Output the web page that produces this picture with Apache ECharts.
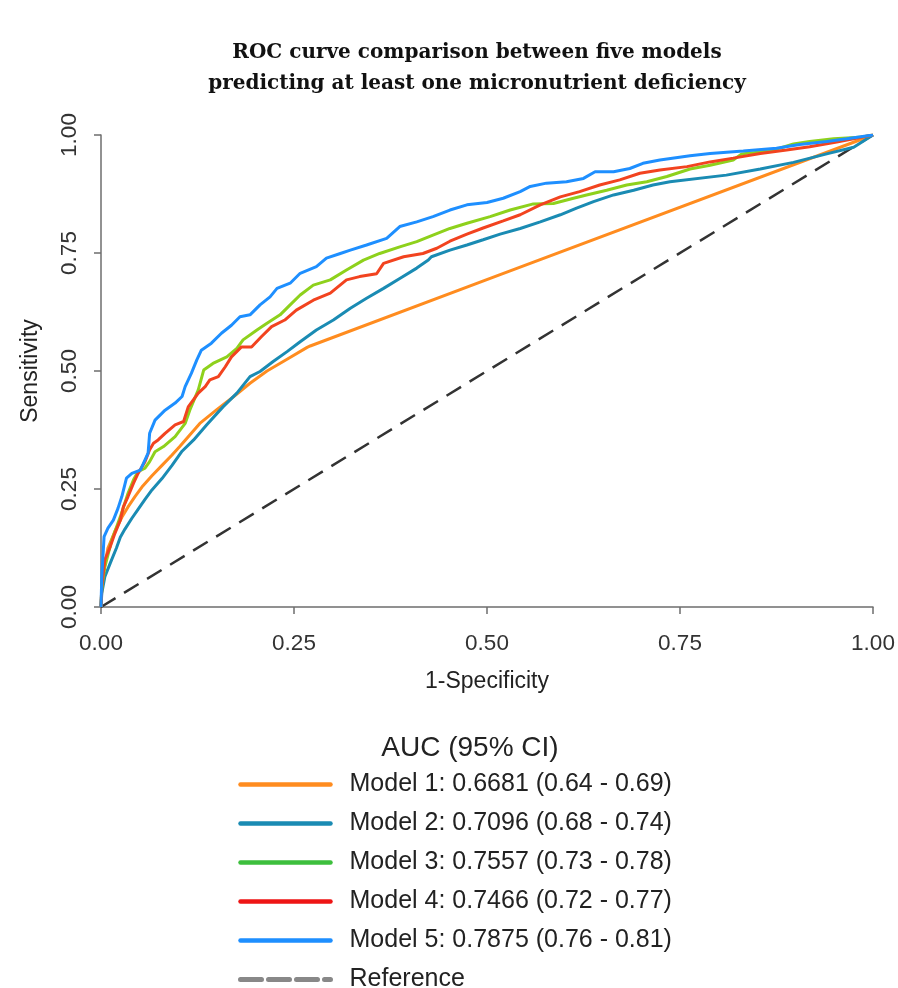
<!DOCTYPE html>
<html>
<head>
<meta charset="utf-8">
<script src="https://cdn.jsdelivr.net/npm/echarts@6/dist/echarts.min.js"></script>
<style>html,body{margin:0;padding:0;background:#fff}#c{width:898px;height:988px}</style>
</head>
<body>
<div id="c"></div>
<script>
const titleLines = ['ROC curve comparison between five models', 'predicting at least one micronutrient deficiency'];
const legendTitle = 'AUC (95% CI)';
const xName = '1-Specificity';
const yName = 'Sensitivity';
const tickValues = [0, 0.25, 0.5, 0.75, 1];
const seriesNames = [
  'Model 1: 0.6681 (0.64 - 0.69)',
  'Model 2: 0.7096 (0.68 - 0.74)',
  'Model 3: 0.7557 (0.73 - 0.78)',
  'Model 4: 0.7466 (0.72 - 0.77)',
  'Model 5: 0.7875 (0.76 - 0.81)',
  'Reference'
];
const model1 = [[0,0],[0.001,0.036],[0.003,0.071],[0.009,0.125],[0.018,0.160],[0.027,0.190],[0.035,0.212],[0.044,0.234],[0.053,0.254],[0.066,0.278],[0.079,0.300],[0.092,0.322],[0.102,0.340],[0.128,0.389],[0.150,0.418],[0.172,0.446],[0.193,0.474],[0.215,0.500],[0.241,0.525],[0.267,0.550],[0.271,0.553],[0.517,0.704],[1,1]];
const model2 = [[0,0],[0.001,0.029],[0.005,0.064],[0.012,0.093],[0.020,0.125],[0.025,0.148],[0.031,0.165],[0.040,0.188],[0.048,0.207],[0.057,0.228],[0.066,0.248],[0.079,0.272],[0.092,0.300],[0.105,0.330],[0.120,0.354],[0.137,0.386],[0.158,0.424],[0.176,0.453],[0.193,0.488],[0.206,0.499],[0.223,0.520],[0.241,0.541],[0.258,0.562],[0.279,0.587],[0.301,0.608],[0.323,0.633],[0.344,0.654],[0.366,0.675],[0.387,0.696],[0.409,0.718],[0.424,0.735],[0.428,0.742],[0.452,0.756],[0.474,0.767],[0.495,0.778],[0.517,0.790],[0.543,0.802],[0.569,0.816],[0.595,0.831],[0.616,0.845],[0.638,0.859],[0.664,0.873],[0.690,0.883],[0.715,0.894],[0.737,0.901],[0.810,0.915],[0.854,0.928],[0.897,0.942],[0.940,0.960],[0.975,0.974],[1,1]];
const model3 = [[0,0],[0.001,0.040],[0.005,0.085],[0.014,0.142],[0.025,0.191],[0.035,0.241],[0.042,0.269],[0.048,0.287],[0.057,0.294],[0.063,0.308],[0.070,0.329],[0.081,0.340],[0.096,0.361],[0.109,0.389],[0.115,0.417],[0.126,0.460],[0.133,0.502],[0.145,0.516],[0.163,0.530],[0.176,0.548],[0.184,0.566],[0.202,0.587],[0.215,0.601],[0.232,0.619],[0.245,0.640],[0.258,0.661],[0.275,0.682],[0.297,0.693],[0.318,0.714],[0.340,0.735],[0.361,0.749],[0.387,0.763],[0.409,0.774],[0.430,0.788],[0.452,0.802],[0.474,0.813],[0.504,0.827],[0.530,0.841],[0.560,0.854],[0.586,0.855],[0.612,0.866],[0.629,0.873],[0.655,0.883],[0.681,0.894],[0.707,0.901],[0.733,0.912],[0.763,0.928],[0.789,0.936],[0.819,0.947],[0.830,0.960],[0.854,0.964],[0.875,0.970],[0.897,0.981],[0.918,0.986],[0.949,0.992],[0.983,0.995],[1,1]];
const model4 = [[0,0],[0.001,0.043],[0.005,0.100],[0.012,0.128],[0.018,0.156],[0.025,0.184],[0.029,0.212],[0.035,0.234],[0.042,0.262],[0.048,0.283],[0.057,0.308],[0.063,0.333],[0.068,0.347],[0.074,0.354],[0.083,0.368],[0.096,0.386],[0.107,0.393],[0.113,0.424],[0.126,0.453],[0.135,0.467],[0.141,0.481],[0.152,0.488],[0.161,0.509],[0.169,0.530],[0.182,0.551],[0.195,0.551],[0.208,0.573],[0.221,0.594],[0.238,0.608],[0.253,0.629],[0.275,0.650],[0.297,0.665],[0.318,0.693],[0.335,0.700],[0.357,0.706],[0.366,0.728],[0.392,0.742],[0.417,0.749],[0.435,0.760],[0.452,0.775],[0.474,0.790],[0.495,0.803],[0.521,0.818],[0.543,0.831],[0.569,0.852],[0.595,0.869],[0.620,0.880],[0.646,0.894],[0.672,0.905],[0.698,0.919],[0.724,0.926],[0.759,0.933],[0.789,0.943],[0.819,0.951],[0.854,0.961],[0.888,0.968],[0.918,0.975],[0.953,0.985],[1,1]];
const model5 = [[0,0],[0.001,0.064],[0.004,0.149],[0.009,0.167],[0.016,0.184],[0.022,0.209],[0.027,0.234],[0.033,0.273],[0.040,0.283],[0.051,0.290],[0.061,0.326],[0.063,0.368],[0.070,0.396],[0.083,0.417],[0.096,0.432],[0.105,0.446],[0.109,0.467],[0.117,0.495],[0.124,0.523],[0.130,0.544],[0.143,0.559],[0.156,0.580],[0.169,0.597],[0.180,0.615],[0.193,0.619],[0.206,0.640],[0.219,0.657],[0.228,0.675],[0.245,0.686],[0.258,0.707],[0.279,0.721],[0.292,0.739],[0.310,0.749],[0.323,0.756],[0.344,0.767],[0.370,0.781],[0.387,0.806],[0.409,0.816],[0.430,0.827],[0.452,0.841],[0.474,0.852],[0.500,0.857],[0.521,0.866],[0.543,0.880],[0.556,0.891],[0.577,0.898],[0.603,0.901],[0.625,0.908],[0.640,0.922],[0.664,0.922],[0.685,0.929],[0.702,0.940],[0.724,0.947],[0.763,0.956],[0.789,0.961],[0.832,0.966],[0.875,0.972],[0.905,0.980],[0.940,0.986],[0.966,0.992],[1,1]];
const reference = [[0,0],[1,1]];

const plotColors = ['#ff8c1f', '#1a8bb3', '#8ed11c', '#f2431f', '#1e8fff', '#333333'];
const legendColors = ['#ff8c1f', '#1a8bb3', '#3dbf3d', '#ee1515', '#1e8fff', '#888888'];
const seriesData = [model1, model2, model3, model4, model5, reference];

const chart = echarts.init(document.getElementById('c'), null, {renderer: 'canvas'});
const font = 'Liberation Sans, Arial, sans-serif';

const series = seriesData.map((d, i) => ({
  name: seriesNames[i],
  type: 'line',
  data: d,
  symbol: 'none',
  silent: true,
  animation: false,
  z: i === 5 ? 1 : (i === 4 ? 8 : 2 + i),
  lineStyle: {
    color: plotColors[i],
    width: i === 5 ? 2.5 : 3,
    type: i === 5 ? [17, 10] : 'solid'
  },
  itemStyle: {color: plotColors[i]}
}));

const axisCommon = {
  type: 'value', min: 0, max: 1, interval: 0.25,
  offset: 8,
  splitLine: {show: false},
  axisLine: {show: true, lineStyle: {color: '#6e6e6e', width: 1.5}},
  axisTick: {show: true, length: 7, lineStyle: {color: '#6e6e6e', width: 1.5}},
  nameLocation: 'middle',
  nameTextStyle: {fontFamily: font, fontSize: 23, color: '#222'}
};

chart.setOption({
  backgroundColor: '#fff',
  animation: false,
  title: [
    {
      text: titleLines.join('\n'),
      left: 472, top: 32, textAlign: 'center',
      textStyle: {fontFamily: 'DejaVu Serif, serif', fontWeight: 'bold', fontSize: 20, lineHeight: 31, color: '#111'}
    },
    {
      text: legendTitle,
      left: 465, top: 729, textAlign: 'center',
      textStyle: {fontFamily: font, fontWeight: 'normal', fontSize: 28, color: '#222'}
    }
  ],
  grid: {left: 101, right: 25, top: 135, bottom: 381},
  xAxis: Object.assign({}, axisCommon, {
    name: xName, nameGap: 55,
    axisLabel: {margin: 17, fontFamily: font, fontSize: 22.5, color: '#333', formatter: v => v.toFixed(2)}
  }),
  yAxis: Object.assign({}, axisCommon, {
    name: yName, nameGap: 51,
    axisLabel: {margin: 12, rotate: 90, fontFamily: font, fontSize: 22.5, color: '#333', formatter: v => v.toFixed(2)}
  }),
  legend: {
    orient: 'vertical',
    left: 238, top: 772,
    height: 240,
    padding: 0,
    itemWidth: 90, itemHeight: 10,
    itemGap: 14,
    selectedMode: false,
    itemStyle: {opacity: 0},
    lineStyle: {width: 4.5},
    textStyle: {fontFamily: font, fontSize: 25, lineHeight: 25, color: '#222', padding: [0, 0, 0, 14]},
    data: seriesNames.map((n, i) => ({
      name: n,
      itemStyle: {opacity: 0},
      lineStyle: {color: legendColors[i], width: i === 5 ? 5 : 4.5, type: i === 5 ? [21, 7] : 'solid', cap: 'round'}
    }))
  },
  series: series
});
</script>
</body>
</html>
